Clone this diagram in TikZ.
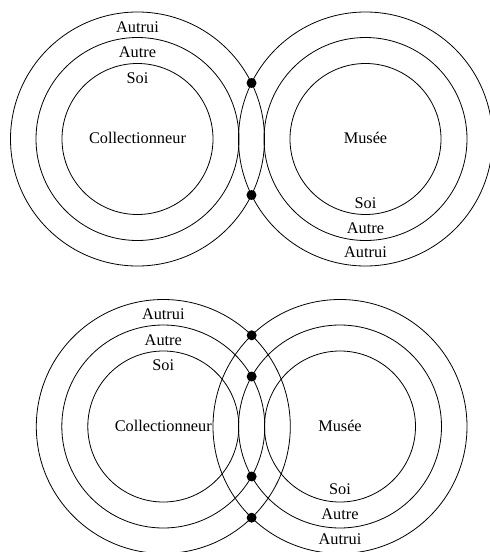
\documentclass[tikz,border=0pt]{standalone}
\usepackage{fontspec}
\setmainfont{Liberation Serif}
\usetikzlibrary{intersections}
\begin{document}
\begin{tikzpicture}[x=1pt,y=-1pt,
  ring/.style={line width=0.8pt, black},
  lbl/.style={font=\fontsize{16.3}{18}\selectfont, anchor=base, inner sep=0pt},
  dot/.style={circle, fill=black, inner sep=0pt, minimum size=10pt}]
\useasboundingbox (0,0) rectangle (490,552);

% ---------- top diagram ----------
\coordinate (TL) at (137.5,139);
\coordinate (TR) at (365.5,139);
\draw[ring] (TL) circle[radius=75.5pt];
\draw[ring] (TL) circle[radius=101.5pt];
\draw[ring, name path=TLo] (TL) circle[radius=127pt];
\draw[ring] (TR) circle[radius=75.5pt];
\draw[ring] (TR) circle[radius=101.5pt];
\draw[ring, name path=TRo] (TR) circle[radius=127pt];
\path[name intersections={of=TLo and TRo, by={ta,tb}}];
\node[dot] (tdot1) at (ta) {};
\node[dot] (tdot2) at (tb) {};

\node[lbl] (tlautrui) at (137.5,32) {Autrui};
\node[lbl] (tlautre) at (137.5,57.5) {Autre};
\node[lbl] (tlsoi) at (137.5,83.5) {Soi};
\node[lbl] (tcoll) at (137.5,143.5) {Collectionneur};
\node[lbl] (tmusee) at (365.5,143.5) {Musée};
\node[lbl] (trsoi) at (365.5,208.5) {Soi};
\node[lbl] (trautre) at (365.5,233.5) {Autre};
\node[lbl] (trautrui) at (365.5,257.5) {Autrui};

% ---------- bottom diagram ----------
\coordinate (BL) at (163.3,426.5);
\coordinate (BR) at (340,426.5);
\draw[ring] (BL) circle[radius=75.5pt];
\draw[ring, name path=BLm] (BL) circle[radius=101.5pt];
\draw[ring, name path=BLo] (BL) circle[radius=127pt];
\draw[ring] (BR) circle[radius=75.5pt];
\draw[ring, name path=BRm] (BR) circle[radius=101.5pt];
\draw[ring, name path=BRo] (BR) circle[radius=127pt];
\path[name intersections={of=BLo and BRo, by={ba,bb}}];
\path[name intersections={of=BLm and BRm, by={bc,bd}}];
\node[dot] (bdot1) at (ba) {};
\node[dot] (bdot2) at (bb) {};
\node[dot] (bdot3) at (bc) {};
\node[dot] (bdot4) at (bd) {};

\node[lbl] (blautrui) at (163.3,319.5) {Autrui};
\node[lbl] (blautre) at (163.3,345.5) {Autre};
\node[lbl] (blsoi) at (163.3,370.5) {Soi};
\node[lbl] (bcoll) at (163.3,431.5) {Collectionneur};
\node[lbl] (bmusee) at (340,431.5) {Musée};
\node[lbl] (brsoi) at (340,494.5) {Soi};
\node[lbl] (brautre) at (340,519.5) {Autre};
\node[lbl] (brautrui) at (340,544.5) {Autrui};
\end{tikzpicture}
\end{document}
